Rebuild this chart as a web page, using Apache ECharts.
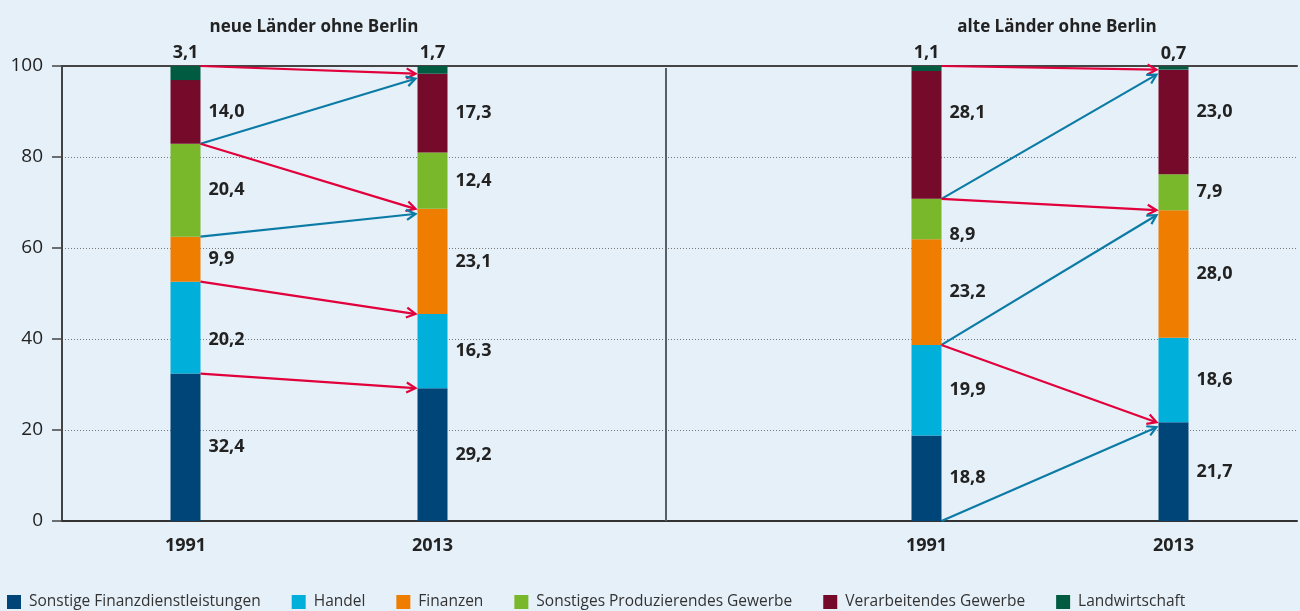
<!DOCTYPE html>
<html><head><meta charset="utf-8">
<script src="https://cdn.jsdelivr.net/npm/echarts@6/dist/echarts.min.js"></script>
<style>html,body{margin:0;padding:0;background:#e6f0f8}#c{width:1300px;height:611px}</style>
</head><body><div id="c"></div>
<script>
// ---- data ----
const categories = ['1991', '2013', '', '1991', '2013'];
const groupTitles = ['neue Länder ohne Berlin', 'alte Länder ohne Berlin'];
const seriesNames = ['Sonstige Finanzdienstleistungen', 'Handel', 'Finanzen', 'Sonstiges Produzierendes Gewerbe', 'Verarbeitendes Gewerbe', 'Landwirtschaft'];
const sonstigeFinanz = [32.4, 29.2, null, 18.8, 21.7];
const handel         = [20.2, 16.3, null, 19.9, 18.6];
const finanzen       = [9.9, 23.1, null, 23.2, 28.0];
const sonstProd      = [20.4, 12.4, null, 8.9, 7.9];
const verarbeitend   = [14.0, 17.3, null, 28.1, 23.0];
const landwirtschaft = [3.1, 1.7, null, 1.1, 0.7];
const yTickValues = [0, 20, 40, 60, 80, 100];
// arrows: [fromCategory, fromStackBoundary, toCategory, toStackBoundary, direction]
const arrowsNeu = [[0,6,1,5,'minus'],[0,4,1,5,'plus'],[0,4,1,3,'minus'],[0,3,1,3,'plus'],[0,2,1,2,'minus'],[0,1,1,1,'minus']];
const arrowsAlt = [[3,6,4,5,'minus'],[3,4,4,5,'plus'],[3,4,4,3,'minus'],[3,2,4,3,'plus'],[3,2,4,1,'minus'],[3,0,4,1,'plus']];

// ---- styles ----
const colors = ['#004577', '#00b0da', '#ef7d00', '#78b82a', '#760a2b', '#005b41'];
const arrowColors = { minus: '#e1003c', plus: '#0b7ba6' };
const FONT = 'Open Sans';
const BAR_W = 30;
const labelNudge = { '4|3': -22, '3|3': 16, '4|4': -10, '1|0': 12 };

const allSeries = [sonstigeFinanz, handel, finanzen, sonstProd, verarbeitend, landwirtschaft];
function boundary(cat, k) { let s = 0; for (let i = 0; i < k; i++) s += allSeries[i][cat] || 0; return s; }
const fmt = v => v.toFixed(1).replace('.', ',');

const arrowData = arrowsNeu.concat(arrowsAlt).map(a => [a[0], boundary(a[0], a[1]), a[2], boundary(a[2], a[3]), a[4] === 'plus' ? 1 : 0]);
const endCount = {};
arrowData.forEach(d => { const k = d[2] + '|' + d[3].toFixed(2); endCount[k] = (endCount[k] || 0) + 1; });

const barSeries = allSeries.map((arr, si) => ({
  name: seriesNames[si], type: 'bar', stack: 'total', barWidth: BAR_W,
  itemStyle: { color: colors[si] },
  data: arr.map((v, ci) => {
    if (v == null) return '-';
    const dy = labelNudge[si + '|' + ci] || 0;
    return { value: v, label: { offset: [0, dy] } };
  }),
  label: {
    show: true, position: si === 5 ? 'top' : 'right', distance: si === 5 ? 4 : 8,
    formatter: p => fmt(p.value), fontFamily: FONT, fontWeight: 'bold', fontSize: 18, color: '#222'
  },
  emphasis: { disabled: true }, z: 2
}));

const arrowSeries = {
  type: 'custom', name: 'arrows', data: arrowData, z: 5, silent: true,
  encode: { x: 0, y: 1 },
  renderItem: function (params, api) {
    const p0 = api.coord([api.value(0), api.value(1)]);
    const p1 = api.coord([api.value(2), api.value(3)]);
    const plus = api.value(4) === 1;
    const key = api.value(2) + '|' + api.value(3).toFixed(2);
    const x0 = p0[0] + BAR_W / 2, y0 = p0[1];
    const x1 = p1[0] - BAR_W / 2 - 2;
    let y1 = p1[1];
    if (plus && endCount[key] > 1) y1 += 5;
    const col = plus ? arrowColors.plus : arrowColors.minus;
    const dx = x1 - x0, dy = y1 - y0, len = Math.sqrt(dx * dx + dy * dy);
    const ux = dx / len, uy = dy / len;
    const h = 9, w = 5;
    const bx = x1 - ux * h, by = y1 - uy * h;
    const nx = -uy, ny = ux;
    return {
      type: 'group', children: [
        { type: 'line', shape: { x1: x0, y1: y0, x2: x1 - ux * 1, y2: y1 - uy * 1 }, style: { stroke: col, lineWidth: 2.2 } },
        { type: 'polyline', shape: { points: [[bx + nx * w, by + ny * w], [x1, y1], [bx - nx * w, by - ny * w]] }, style: { stroke: col, lineWidth: 2.2, fill: null } }
      ]
    };
  }
};

const chart = echarts.init(document.getElementById('c'), null, { renderer: 'canvas' });
chart.setOption({
  backgroundColor: '#e6f0f8',
  animation: false,
  textStyle: { fontFamily: FONT },
  title: [
    { text: groupTitles[0], left: 309, top: 14, textAlign: 'center', textStyle: { fontFamily: FONT, fontWeight: 'bold', fontSize: 17, color: '#222' } },
    { text: groupTitles[1], left: 1052, top: 14, textAlign: 'center', textStyle: { fontFamily: FONT, fontWeight: 'bold', fontSize: 17, color: '#222' } }
  ],
  legend: {
    data: seriesNames, left: 7, top: 594, padding: 0, itemWidth: 14, itemHeight: 14, itemGap: 31, icon: 'rect',
    textStyle: { fontFamily: FONT, fontSize: 15.5, color: '#333', padding: [0, 0, 0, 3] }
  },
  grid: { left: 62, right: 3, top: 66, bottom: 90, containLabel: false },
  xAxis: [
    { type: 'category', data: categories, axisLine: { lineStyle: { color: '#333', width: 2 } }, axisTick: { show: false },
      axisLabel: { fontFamily: FONT, fontWeight: 'bold', fontSize: 18, color: '#222', margin: 16 } },
    { type: 'category', data: categories, position: 'top', axisLine: { lineStyle: { color: '#444', width: 2 } }, axisTick: { show: false }, axisLabel: { show: false } }
  ],
  yAxis: {
    type: 'value', min: yTickValues[0], max: yTickValues[yTickValues.length - 1], interval: yTickValues[1] - yTickValues[0],
    axisLine: { show: true, lineStyle: { color: '#444', width: 2 } },
    axisTick: { show: true, length: 10, lineStyle: { color: '#444', width: 1.5 } },
    axisLabel: { fontFamily: FONT, fontSize: 19, color: '#222', margin: 19 },
    splitLine: { lineStyle: { color: '#777', type: [1, 2], width: 1 } }
  },
  graphic: [
    { type: 'line', shape: { x1: 666, y1: 68, x2: 666, y2: 521 }, style: { stroke: '#5a5f66', lineWidth: 2 }, z: 10 }
  ],
  series: barSeries.concat([arrowSeries])
});
</script></body></html>
